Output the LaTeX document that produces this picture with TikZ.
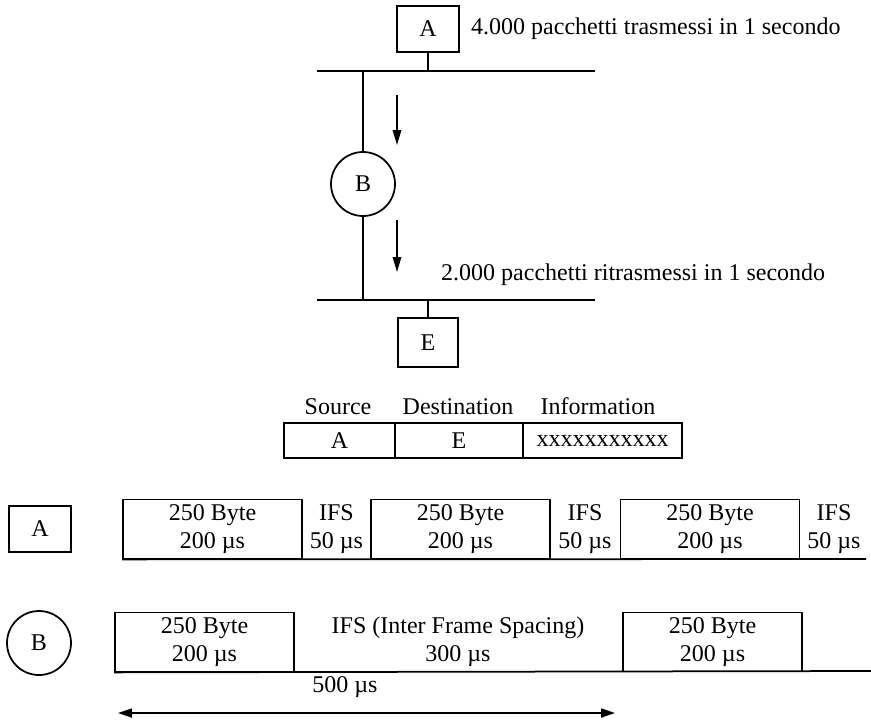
\documentclass[tikz,border=0pt]{standalone}
\usepackage{fontspec}
\setmainfont{Liberation Serif}
\usetikzlibrary{arrows.meta}
\begin{document}
\begin{tikzpicture}[x=0.4pt,y=-0.4pt,line width=0.7pt,font=\fontsize{9.6}{11.2}\selectfont,
  station/.style={draw, rectangle, inner sep=0pt, minimum width=24.8pt, minimum height=18.4pt},
  relay/.style={draw, circle, inner sep=0pt, minimum size=25.6pt},
  fieldbox/.style={draw, rectangle, inner sep=0pt, minimum height=14pt},
  framebox/.style={draw, rectangle, inner sep=0pt, minimum width=71.6pt, minimum height=23.6pt, align=center},
  gaplabel/.style={align=center, inner sep=0pt},
  flow/.style={-{Triangle[length=6pt,width=3.4pt]}}]
\useasboundingbox (0,0) rectangle (871,720);

% network
\node[station] (A) at (428,29) {A};
\node[anchor=west] (sent) at (462,29) {4.000 pacchetti trasmessi in 1 secondo};
\coordinate (bus1w) at (317,71);
\coordinate (bus1e) at (595,71);
\draw (bus1w) -- (bus1e);
\draw (A.south) -- (A.south |- bus1w);

\node[relay] (B) at (363,184) {B};
\draw (B.north) -- (B.north |- bus1w);
\coordinate (bus2w) at (317,300);
\coordinate (bus2e) at (595,300);
\draw (bus2w) -- (bus2e);
\draw (B.south) -- (B.south |- bus2w);
\node[anchor=west] (resent) at (432,275) {2.000 pacchetti ritrasmessi in 1 secondo};

\node[station, minimum width=24pt, minimum height=19.6pt] (E) at (428,342.5) {E};
\draw (E.north) -- (E.north |- bus2w);

\coordinate (in1) at (397,95);
\coordinate (in2) at (397,145);
\draw[flow] (in1) -- (in2);
\coordinate (out1) at (397,220);
\coordinate (out2) at (397,272);
\draw[flow] (out1) -- (out2);

% packet
\node[anchor=base] (hsrc) at (338,414) {Source};
\node[anchor=base] (hdst) at (458,414) {Destination};
\node[anchor=base] (hinf) at (598,414) {Information};
\node[fieldbox, minimum width=44.4pt] (src) at (339.5,440.5) {A};
\node[fieldbox, minimum width=51.2pt] (dst) at (459,440.5) {E};
\node[fieldbox, minimum width=63.6pt] (inf) at (602.5,440.5) {xxxxxxxxxxx};

% timing of A
\node[station] (A2) at (40,529) {A};
\node[framebox] (a1) at (212.5,529) {250 Byte\\200 µs};
\node[gaplabel] (g1) at (336.5,529) {IFS\\50 µs};
\node[framebox] (a2) at (460.5,529) {250 Byte\\200 µs};
\node[gaplabel] (g2) at (585,529) {IFS\\50 µs};
\node[framebox] (a3) at (710,529) {250 Byte\\200 µs};
\node[gaplabel] (g3) at (834,529) {IFS\\50 µs};
\coordinate (endA) at (866,559);
\draw (a1.south west) -- (endA);

% timing of B
\node[relay] (B2) at (39,643) {B};
\node[framebox] (b1) at (204.5,642) {250 Byte\\200 µs};
\node[gaplabel] (gB) at (458,642) {IFS (Inter Frame Spacing)\\300 µs};
\node[framebox] (b2) at (712.5,642) {250 Byte\\200 µs};
\coordinate (endB) at (871,671);
\draw (b1.south west) -- (endB);

\node (span) at (345,687) {500 µs};
\coordinate (spanw) at (118,713);
\coordinate (spane) at (615,713);
\draw[{Triangle[length=5.6pt,width=3.6pt]}-{Triangle[length=5.6pt,width=3.6pt]}] (spanw) -- (spane);
\end{tikzpicture}
\end{document}
